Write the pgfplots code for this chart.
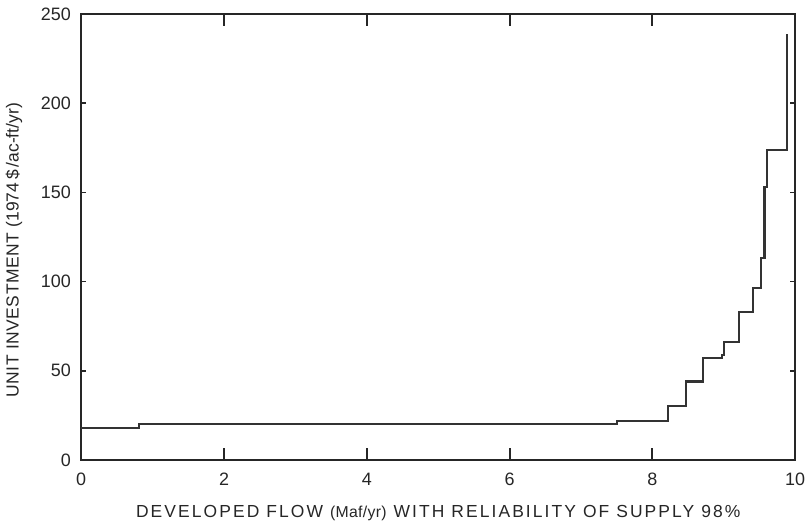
\documentclass[border=0pt]{standalone}
\usepackage{fontspec}
\setmainfont{Liberation Sans}
\usepackage{pgfplots}
\pgfplotsset{compat=1.18}
\begin{document}
\fontsize{10.5}{12}\selectfont
\begin{tikzpicture}
\begin{axis}[
  name=main,
  scale only axis,
  width=429.6pt, height=268.2pt,
  xmin=0, xmax=10, ymin=0, ymax=250,
  xtick={0,2,4,6,8,10},
  ytick={0,50,100,150,200,250},
  tick align=inside,
  major tick length=3pt,
  every tick/.style={draw=black!85, line width=1.1pt},
  x tick style={/pgfplots/major tick length=7pt},
  /pgf/number format/assume math mode=true,
  tick label style={font=\fontsize{10.8}{12}\selectfont, text=black!85},
  xticklabel style={yshift=-4pt},
  yticklabel style={xshift=-2.5pt},
  axis line style={line width=1pt, black!85},
  xlabel={\addfontfeatures{LetterSpace=12}DEVELOPED FLOW {\fontsize{9.5}{10}\selectfont\addfontfeatures{LetterSpace=2}(Maf/yr)} WITH RELIABILITY OF SUPPLY 98\%},
  ylabel={\addfontfeatures{LetterSpace=3}UNIT INVESTMENT {\addfontfeatures{LetterSpace=0}(1974\,\$\,/ac-ft/yr)}},
  xlabel style={yshift=-4.5pt, xshift=0pt, text=black!85},
  ylabel style={yshift=4pt, xshift=-8pt, text=black!85},
]
\addplot[const plot mark left, line width=1.3pt, black!80] coordinates {
(0,18) (0.81,20) (7.5,22) (8.22,30) (8.47,44) (8.71,57) (8.97,59)
(9.0,66) (9.21,83) (9.41,96.5) (9.52,113) (9.57,153) (9.61,174) (9.88,239)
};
\end{axis}
\path (main.north east) ++(6.5pt,8.5pt);
\end{tikzpicture}
\end{document}
